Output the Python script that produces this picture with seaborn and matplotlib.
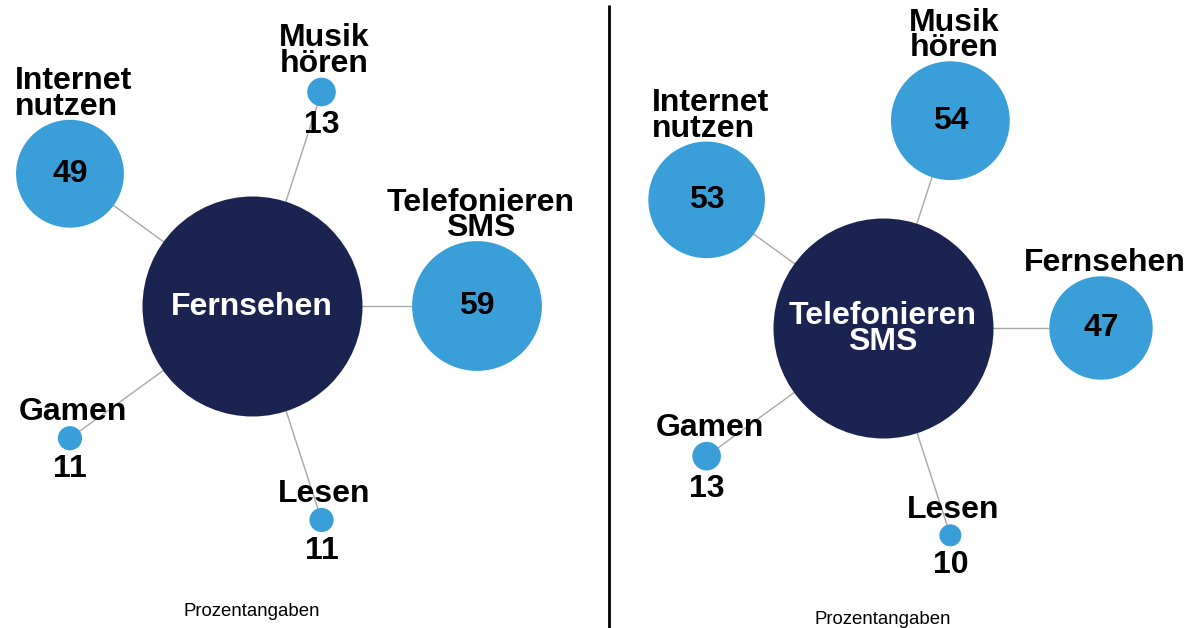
import numpy as np
import pandas as pd
import matplotlib
matplotlib.use("Agg")
import matplotlib.pyplot as plt
import seaborn as sns

# Activities done together with the central activity (percent)
left_center = "Fernsehen"
left_labels = ["Telefonieren\nSMS", "Musik\nhören", "Internet\nnutzen", "Gamen", "Lesen"]
left_values = [59, 13, 49, 11, 11]

right_center = "Telefonieren\nSMS"
right_labels = ["Fernsehen", "Musik\nhören", "Internet\nnutzen", "Gamen", "Lesen"]
right_values = [47, 54, 53, 13, 10]

note_text = "Prozentangaben"

# Styling
NAVY = "#1b2350"
BLUE = "#3a9fd9"
LINE = "#a8a8a8"
BOLD = 23
LSP = 0.8
W, H, DPI = 1189, 628, 100
PX_PER_VALUE = 1.1          # circle radius (px) per percent point
CENTER_VALUE = 100
ANGLES = np.deg2rad([0, 72, 144, 216, 288])

sns.set_theme(style="white")
plt.rcParams["font.family"] = ["Liberation Sans", "DejaVu Sans"]
plt.rcParams["text.color"] = "black"

fig = plt.figure(figsize=(W / DPI, H / DPI), dpi=DPI)
ax = fig.add_axes([0, 0, 1, 1])
ax.set_xlim(0, W)
ax.set_ylim(H, 0)
ax.axis("off")


def area_pt2(value):
    """Scatter marker area (pt^2) for a circle whose radius follows value."""
    diameter_px = 2 * value * PX_PER_VALUE
    return (diameter_px * 72 / DPI) ** 2


def bold_text(x, y, s, **kw):
    kw.setdefault("color", "black")
    ax.text(x, y, s, fontsize=BOLD, fontweight="bold", linespacing=LSP,
            zorder=4, **kw)


def draw_panel(cx, cy, dist, center_label, labels, values, note_y):
    df = pd.DataFrame({
        "label": labels,
        "value": values,
        "x": cx + dist * np.cos(ANGLES),
        "y": cy - dist * np.sin(ANGLES),
    })

    # spokes from the hub to every satellite
    for _, r in df.iterrows():
        ax.plot([cx, r.x], [cy, r.y], color=LINE, lw=1, zorder=1)

    # hub
    hub = pd.DataFrame({"x": [cx], "y": [cy], "value": [CENTER_VALUE]})
    sns.scatterplot(data=hub, x="x", y="y", s=area_pt2(CENTER_VALUE),
                    color=NAVY, linewidth=0, ax=ax, zorder=2, legend=False)
    bold_text(cx, cy + 1, center_label, color="white",
              ha="center", va="center")

    # satellites
    sns.scatterplot(data=df, x="x", y="y", s=[area_pt2(v) for v in df.value],
                    color=BLUE, linewidth=0, ax=ax, zorder=2, legend=False)

    for _, r in df.iterrows():
        rad = r.value * PX_PER_VALUE
        align = "left" if r.label.startswith("Internet") else "center"
        if rad > 30:
            bold_text(r.x, r.y, f"{r.value}", ha="center", va="center")
            bold_text(r.x + 4, r.y - rad - 5, r.label, ha="center",
                      va="baseline", multialignment=align)
        else:
            bold_text(r.x + 3, r.y - rad - 6, r.label, ha="center",
                      va="baseline", multialignment=align)
            bold_text(r.x, r.y + rad + 27, f"{r.value}", ha="center",
                      va="baseline")

    ax.text(cx, note_y, note_text, fontsize=13.4, ha="center",
            va="baseline", color="black")


draw_panel(252, 306, 225, left_center, left_labels, left_values, 616)
draw_panel(883, 328, 218, right_center, right_labels, right_values, 624)

# divider between the two panels
ax.plot([609, 609], [5, H], color="black", lw=2, solid_capstyle="butt")

fig.savefig("out.png", dpi=DPI, facecolor="white")
